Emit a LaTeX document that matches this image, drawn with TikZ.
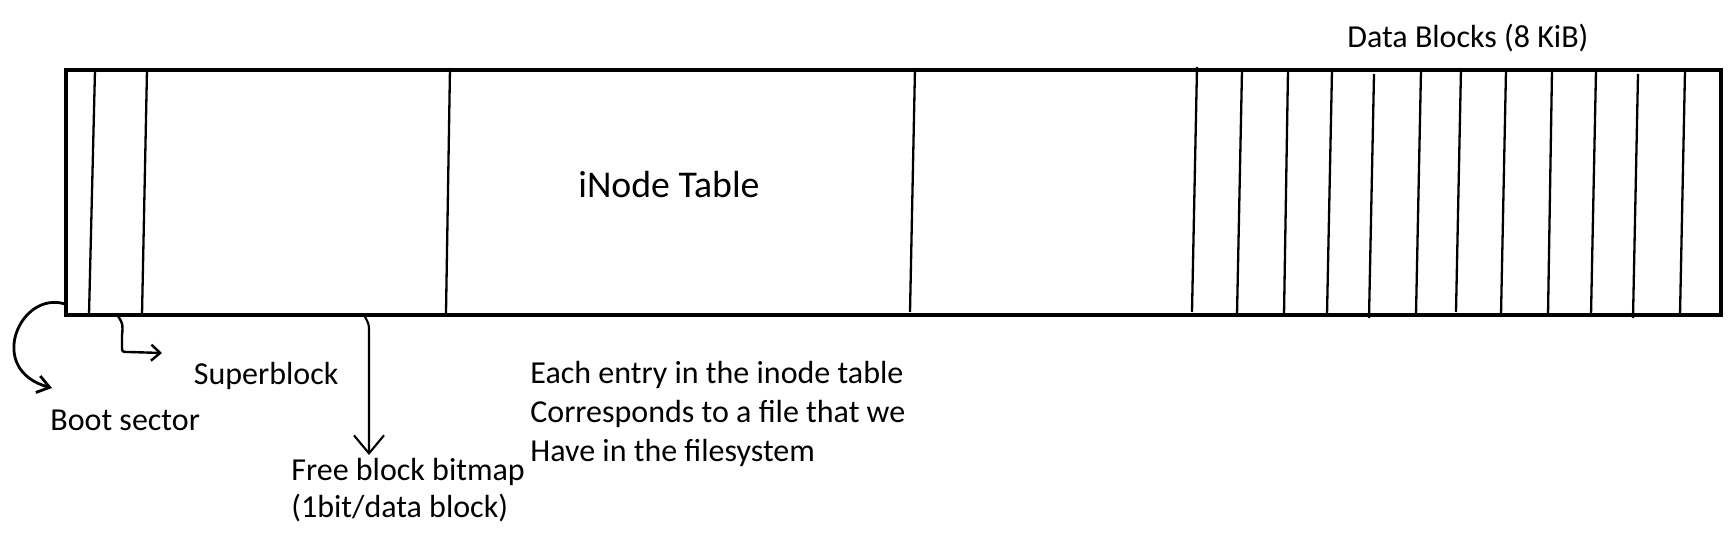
\documentclass[tikz,border=0pt]{standalone}
\usepackage{fontspec}
\setmainfont{Carlito}
\usetikzlibrary{arrows.meta}
\begin{document}
\begin{tikzpicture}[x=0.5pt,y=-0.5pt,
  outline/.style={line width=1.6pt},
  divider/.style={line width=1.15pt},
  lbl/.style={font=\fontsize{16pt}{19.6pt}\selectfont, inner sep=0pt, anchor=base west},
  big/.style={font=\fontsize{18.9pt}{22pt}\selectfont, inner sep=0pt, anchor=base west},
  ptr/.style={line width=1.2pt, line cap=round, line join=round},
]
\useasboundingbox (0,0) rectangle (1735,546);
% disk layout
\draw[outline] (66,70) rectangle (1721,315);
\foreach \xt/\yt/\xb/\yb in {95/70/89/315, 147/70/142/315, 450/68/446/313, 915/68/910/312,
  1197/67/1192/312, 1242/70/1237/315, 1288/70/1284/315, 1332/70/1327/315,
  1374/74/1369/318, 1421/70/1416/315, 1461/68/1456/312, 1506/70/1501/315,
  1552/70/1548/315, 1596/70/1591/315, 1638/74/1633/318, 1685/70/1680/315}
  \draw[divider] (\xt,\yt) -- (\xb,\yb);
% labels
\node[lbl] (datablocks) at (1347,47.7) {Data Blocks (8 KiB)};
\node[big] (inode) at (578,197) {iNode Table};
\node[lbl] (superblock) at (193.5,384) {Superblock};
\node[lbl] (bootsector) at (50,430) {Boot sector};
\node[lbl] (bitmapA) at (291,480) {Free block bitmap};
\node[lbl] (bitmapB) at (291,517) {(1bit/data block)};
\node[lbl] (noteA) at (530,383.3) {Each entry in the inode table};
\node[lbl] (noteB) at (530,422.3) {Corresponds to a file that we};
\node[lbl] (noteC) at (530,461.7) {Have in the filesystem};
% arrows
\coordinate (bootsrc) at (65,304);
\coordinate (boottip) at (52,388);
\draw[ptr, line width=1.4pt, -{Straight Barb[length=6pt,width=8.5pt]}] (bootsrc) .. controls (20,290) and (-15,370) .. (boottip);
\coordinate (supsrc) at (118,316);
\coordinate (suptip) at (162,353);
\draw[ptr, line width=1.2pt, -{Straight Barb[length=4.5pt,width=8pt]}] (supsrc) .. controls (123,324) .. (122,336) -- (122,347) .. controls (122,352) .. (129,352) -- (suptip);
\coordinate (bmsrc) at (365,317);
\coordinate (bmtip) at (369,455);
\draw[ptr, line width=1.05pt, -{Straight Barb[length=9pt,width=15pt]}] (bmsrc) .. controls (369,324) .. (369,334) -- (bmtip);
\end{tikzpicture}
\end{document}
